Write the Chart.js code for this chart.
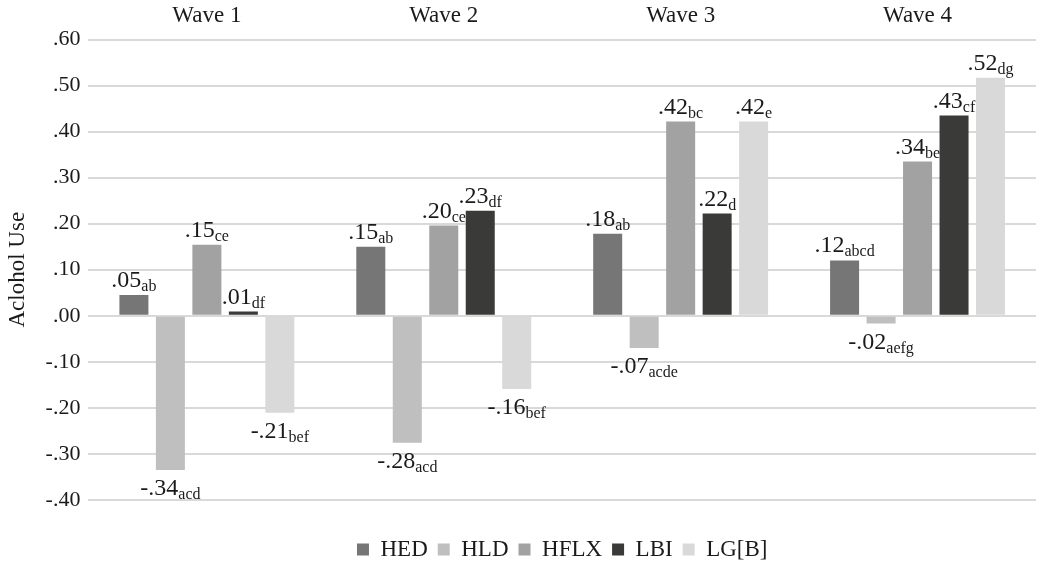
<!DOCTYPE html>
<html>
<head>
<meta charset="utf-8">
<script src="https://cdn.jsdelivr.net/npm/chart.js@4"></script>
<style>
  html, body { margin: 0; padding: 0; background: #fff; }
  #wrap { width: 1050px; height: 564px; }
</style>
</head>
<body>
<div id="wrap"><canvas id="chart" width="1050" height="564"></canvas></div>
<script>
// === data
const categories = ["Wave 1", "Wave 2", "Wave 3", "Wave 4"];
const seriesNames = ["HED", "HLD", "HFLX", "LBI", "LG[B]"];

const hed  = [0.045, 0.150, 0.178, 0.120];
const hld  = [-0.335, -0.276, -0.070, -0.017];
const hflx = [0.154, 0.196, 0.422, 0.335];
const lbi  = [0.009, 0.228, 0.222, 0.435];
const lgb  = [-0.211, -0.159, 0.422, 0.517];

// printed labels (value + subscript letters)
const hedText  = [".05", ".15", ".18", ".12"];
const hldText  = ["-.34", "-.28", "-.07", "-.02"];
const hflxText = [".15", ".20", ".42", ".34"];
const lbiText  = [".01", ".23", ".22", ".43"];
const lgbText  = ["-.21", "-.16", ".42", ".52"];

const hedSub  = ["ab", "ab", "ab", "abcd"];
const hldSub  = ["acd", "acd", "acde", "aefg"];
const hflxSub = ["ce", "ce", "bc", "be"];
const lbiSub  = ["df", "df", "d", "cf"];
const lgbSub  = ["bef", "bef", "e", "dg"];

const yTicks = [-0.4, -0.3, -0.2, -0.1, 0, 0.1, 0.2, 0.3, 0.4, 0.5, 0.6];

const colors = ["#767676", "#bfbfbf", "#a2a2a2", "#3a3a38", "#d9d9d9"];
const values = [hed, hld, hflx, lbi, lgb];
const texts = [hedText, hldText, hflxText, lbiText, lgbText];
const subs = [hedSub, hldSub, hflxSub, lbiSub, lgbSub];

const FONT = "'Liberation Serif', 'Times New Roman', serif";

// draws ".05ab" style labels with subscript letters
const subLabels = {
  id: "subLabels",
  afterDatasetsDraw(chart) {
    const ctx = chart.ctx;
    ctx.save();
    ctx.fillStyle = "#1a1a1a";
    ctx.textBaseline = "alphabetic";
    ctx.textAlign = "left";
    chart.data.datasets.forEach((ds, i) => {
      const meta = chart.getDatasetMeta(i);
      meta.data.forEach((bar, j) => {
        const main = texts[i][j];
        const sub = subs[i][j];
        ctx.font = "24px " + FONT;
        const wMain = ctx.measureText(main).width;
        ctx.font = "16px " + FONT;
        const wSub = ctx.measureText(sub).width;
        const x0 = bar.x - (wMain + wSub) / 2;
        const base = values[i][j] >= 0 ? bar.y - 8 : bar.y + 25;
        ctx.font = "24px " + FONT;
        ctx.fillText(main, x0, base);
        ctx.font = "16px " + FONT;
        ctx.fillText(sub, x0 + wMain, base + 4);
      });
    });
    ctx.restore();
  }
};

// center the legend under the plot area, a bit lower
const legendShift = {
  id: "legendShift",
  afterLayout(chart) {
    const lg = chart.legend;
    lg.left = chart.chartArea.left;
    lg.right = chart.chartArea.right;
    lg.top += 7;
    lg.bottom += 7;
  }
};

new Chart(document.getElementById("chart"), {
  type: "bar",
  data: {
    labels: categories,
    datasets: seriesNames.map((name, i) => ({
      label: name,
      data: values[i],
      backgroundColor: colors[i],
      borderWidth: 0,
      categoryPercentage: 0.77,
      barPercentage: 0.795
    }))
  },
  options: {
    responsive: false,
    animation: false,
    layout: { padding: { top: 0, right: 14, bottom: 0, left: 4 } },
    plugins: {
      legend: {
        position: "bottom",
        title: { display: true, text: " ", font: { size: 1 }, padding: 10 },
        labels: {
          boxWidth: 12,
          boxHeight: 12,
          padding: 10,
          color: "#1a1a1a",
          font: { family: FONT, size: 23 }
        }
      },
      tooltip: { enabled: false }
    },
    scales: {
      x: {
        position: "top",
        grid: { display: false },
        border: { display: false },
        ticks: { color: "#1a1a1a", padding: 2, font: { family: FONT, size: 23 } }
      },
      y: {
        min: -0.4,
        max: 0.6,
        afterBuildTicks(axis) { axis.ticks = yTicks.map(v => ({ value: v })); },
        grid: { color: "#d9d9d9", lineWidth: 2, drawTicks: false },
        border: { display: false },
        title: {
          display: true,
          text: "Aclohol Use",
          color: "#1a1a1a",
          font: { family: FONT, size: 23 },
          padding: { top: 0, bottom: 6 }
        },
        ticks: {
          color: "#1a1a1a",
          padding: 8,
          font: { family: FONT, size: 22 },
          callback: v => Number(v).toFixed(2).replace("0.", ".")
        }
      }
    }
  },
  plugins: [subLabels, legendShift]
});
</script>
</body>
</html>
